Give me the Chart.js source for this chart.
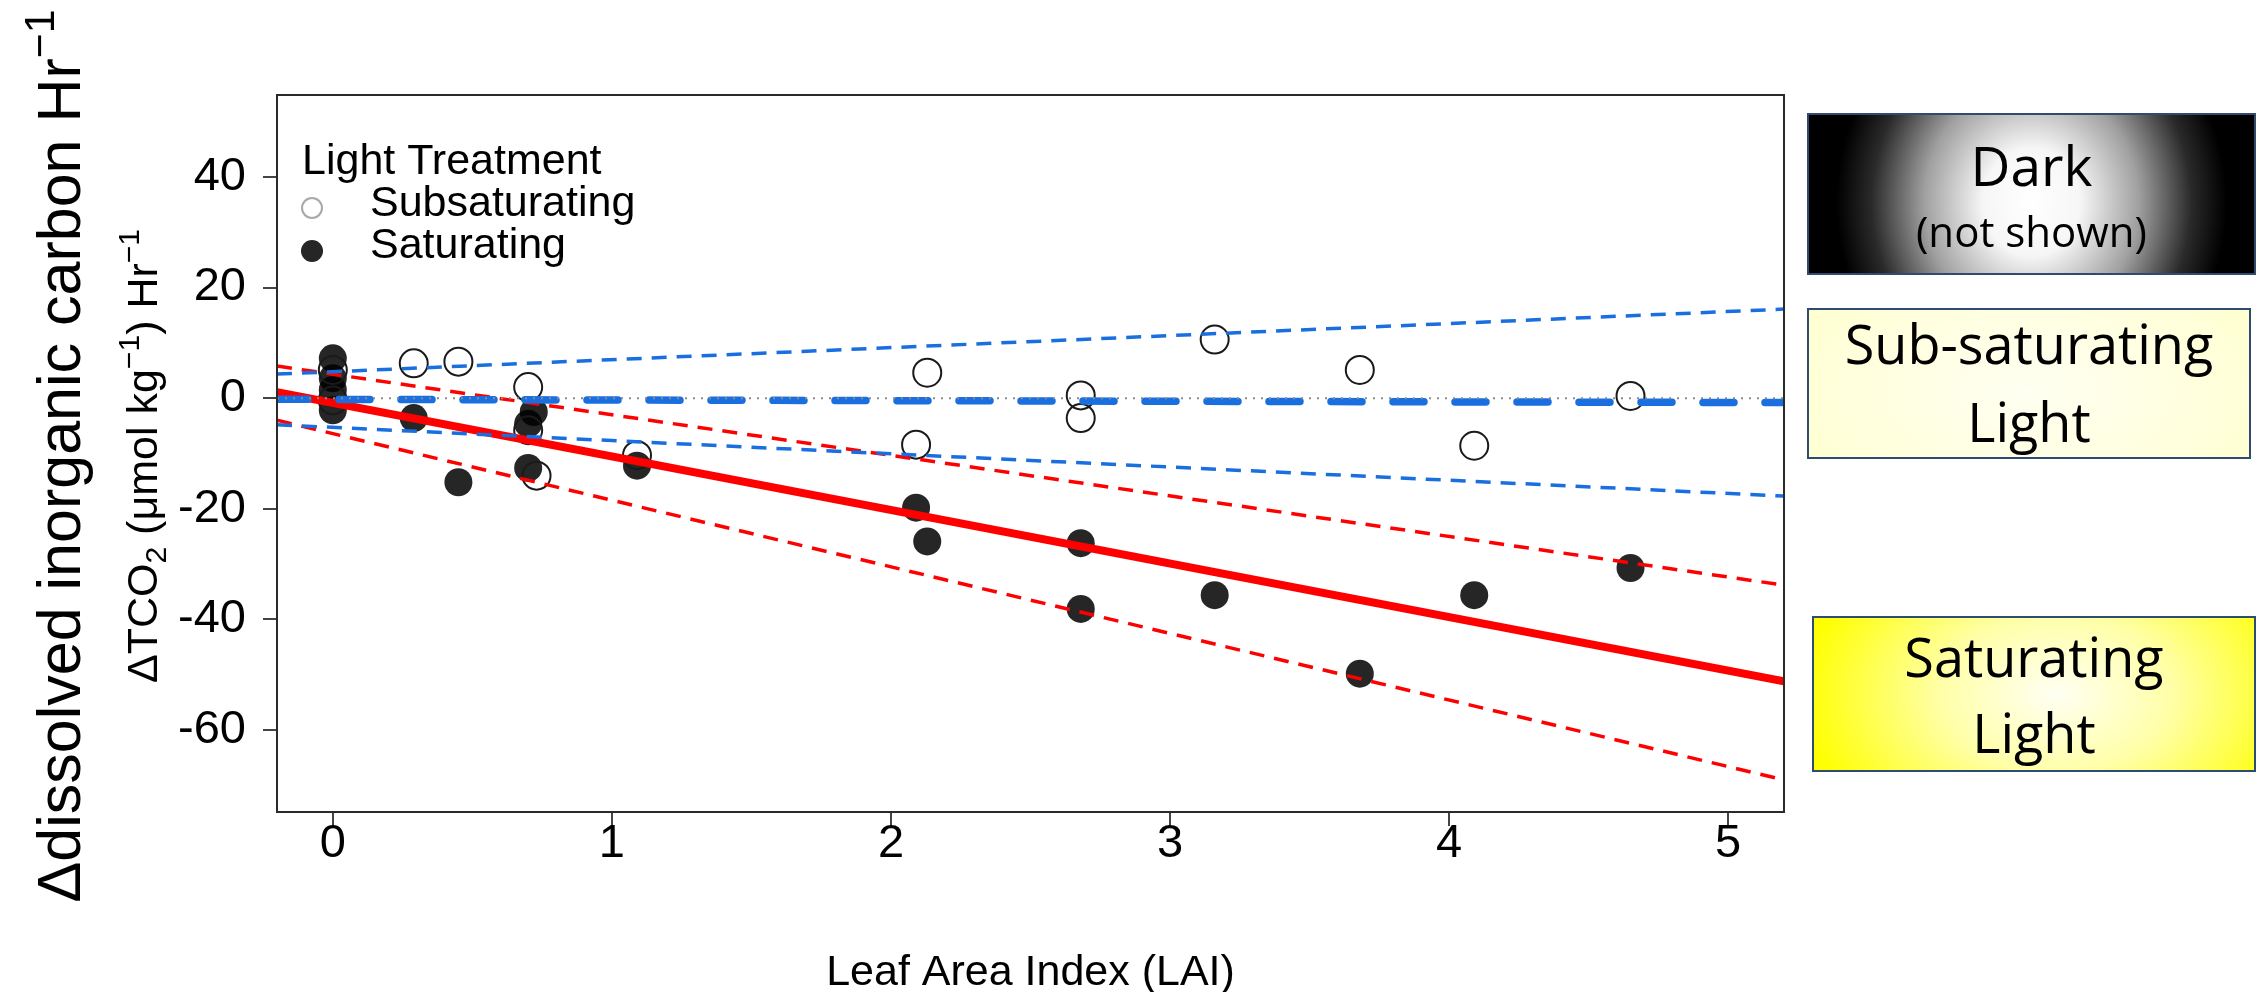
<!DOCTYPE html>
<html>
<head>
<meta charset="utf-8">
<script src="https://cdn.jsdelivr.net/npm/chart.js@4.4.1/dist/chart.umd.min.js"></script>
<style>
  html, body { margin: 0; padding: 0; background: #fff; }
  #wrap { position: relative; width: 2262px; height: 992px; overflow: hidden; }
  #chartBox { position: absolute; left: 0; top: 0; width: 2262px; height: 992px; }
  .panel { position: absolute; box-sizing: border-box; border: 2.5px solid #2f4b72;
           font-family: "Open Sans", "Noto Sans", sans-serif; color: #000; }
  .panel span { position: absolute; left: 0; right: 0; text-align: center; line-height: 1; white-space: nowrap; }
  #darkPanel { left: 1807px; top: 113px; width: 449px; height: 162px;
               background: radial-gradient(ellipse 195px 215px at 50% 55%, #ffffff 0%, #f6f6f6 25%, #a0a0a0 55%, #2a2a2a 82%, #000 100%); }
  #subPanel { left: 1807px; top: 308px; width: 444px; height: 151px;
              background: radial-gradient(ellipse 70% 120% at 50% 55%, #fffff2 0%, #ffffdc 60%, #ffffc8 100%); }
  #satPanel { left: 1812px; top: 616px; width: 444px; height: 156px;
              background: radial-gradient(ellipse 58% 115% at 55% 50%, #fffff4 0%, #ffffa8 45%, #ffff00 100%); }
</style>
</head>
<body>
<div id="wrap">
  <div id="chartBox"><canvas id="laiChart"></canvas></div>
  <div class="panel" id="darkPanel"></div>
  <div class="panel" id="subPanel"></div>
  <div class="panel" id="satPanel"></div>
</div>
<script>
// subsaturating light (open circles)
const subX = [0, 0, 0.29, 0.45, 0.70, 0.70, 0.73, 1.09, 2.09, 2.13, 2.68, 2.68, 3.16, 3.68, 4.09, 4.65];
const subY = [5.1, -0.4, 6.3, 6.6, 2.0, -5.8, -14.0, -10.3, -8.4, 4.6, 0.5, -3.6, 10.6, 5.1, -8.6, 0.4];

// saturating light (filled circles)
const satX = [0, 0, 0, 0, 0.29, 0.45, 0.70, 0.70, 0.72, 1.09, 2.09, 2.13, 2.68, 2.68, 3.16, 3.68, 4.09, 4.65];
const satY = [7.2, 3.6, 1.5, -2.2, -3.6, -15.2, -12.6, -4.6, -2.5, -12.2, -19.8, -25.9, -26.2, -38.1, -35.6, -49.8, -35.6, -30.7];

// fitted lines and bands, read at the two plot edges
const lineX = [-0.2, 5.2];
const satFitY = [1.1, -51.2];
const satUpperY = [5.8, -33.8];
const satLowerY = [-4.0, -69.0];
const subFitY = [-0.2, -0.8];
const subUpperY = [4.35, 16.1];
const subLowerY = [-4.8, -17.7];
const zeroY = [0, 0];

const xTicks = [0, 1, 2, 3, 4, 5];
const yTicks = [-60, -40, -20, 0, 20, 40];
const xRange = [-0.2, 5.2];
const yRange = [-74.8, 54.8];

const axisFont = '"Liberation Sans", Arial, sans-serif';
const red = '#ff0000';
const blue = '#1a6fe0';

function pairs(xs, ys) {
    return xs.map((x, i) => ({ x: x, y: ys[i] }));
}

function lineSet(label, ys, color, width, dash, order, cap) {
    return {
        label: label,
        data: pairs(lineX, ys),
        showLine: true,
        borderColor: color,
        borderWidth: width,
        borderDash: dash,
        borderCapStyle: cap || 'butt',
        pointRadius: 0,
        pointHoverRadius: 0,
        order: order
    };
}

// rotated / plain text with super- and subscripts
function drawRich(ctx, segs, x, y, size, rotate) {
    ctx.save();
    ctx.translate(x, y);
    if (rotate) ctx.rotate(-Math.PI / 2);
    ctx.fillStyle = '#000';
    ctx.textBaseline = 'alphabetic';
    ctx.textAlign = 'left';
    let total = 0;
    segs.forEach(s => {
        const fs = s.sup || s.sub ? size * 0.7 : size;
        ctx.font = fs + 'px ' + axisFont;
        s.w = ctx.measureText(s.t).width;
        total += s.w;
    });
    let cx = -total / 2;
    segs.forEach(s => {
        const fs = s.sup || s.sub ? size * 0.7 : size;
        ctx.font = fs + 'px ' + axisFont;
        let dy = 0;
        if (s.sup) dy = -size * 0.42;
        if (s.sub) dy = size * 0.22;
        ctx.fillText(s.t, cx, dy);
        cx += s.w;
    });
    ctx.restore();
}

const extras = {
    id: 'extras',
    afterDraw(chart) {
        const ctx = chart.ctx;
        const a = chart.chartArea;
        ctx.save();
        ctx.strokeStyle = '#2a2a2a';
        ctx.lineWidth = 2;
        ctx.strokeRect(a.left, a.top, a.right - a.left, a.bottom - a.top);

        drawRich(ctx, [{ t: 'Δdissolved inorganic carbon Hr' }, { t: '−1', sup: true }], 80, 456, 61, true);
        drawRich(ctx, [{ t: 'ΔTCO' }, { t: '2', sub: true }, { t: ' (μmol kg' }, { t: '−1', sup: true },
                       { t: ') Hr' }, { t: '−1', sup: true }], 157, 456, 43, true);
        drawRich(ctx, [{ t: 'Leaf Area Index (LAI)' }], (a.left + a.right) / 2, 985, 43, false);

        // legend
        ctx.font = '43px ' + axisFont;
        ctx.fillStyle = '#000';
        ctx.textAlign = 'left';
        ctx.textBaseline = 'alphabetic';
        ctx.fillText('Light Treatment', 302, 174);
        ctx.fillText('Subsaturating', 370, 216);
        ctx.fillText('Saturating', 370, 258);
        ctx.beginPath();
        ctx.arc(312, 208, 10, 0, Math.PI * 2);
        ctx.strokeStyle = '#a8a8a8';
        ctx.lineWidth = 2;
        ctx.stroke();
        ctx.beginPath();
        ctx.arc(312, 251, 11, 0, Math.PI * 2);
        ctx.fillStyle = '#262626';
        ctx.fill();
        ctx.restore();
    }
};

new Chart(document.getElementById('laiChart'), {
    type: 'scatter',
    data: {
        datasets: [
            {
                label: 'Saturating',
                data: pairs(satX, satY),
                pointRadius: 14,
                pointHoverRadius: 14,
                pointBackgroundColor: 'rgba(0,0,0,0.85)',
                pointBorderWidth: 0,
                order: 6
            },
            {
                label: 'Subsaturating',
                data: pairs(subX, subY),
                pointRadius: 14,
                pointHoverRadius: 14,
                pointBackgroundColor: 'rgba(0,0,0,0)',
                pointBorderColor: '#1a1a1a',
                pointBorderWidth: 2,
                order: 5
            },
            lineSet('sat lower', satLowerY, red, 3.5, [15, 10], 4),
            lineSet('sat upper', satUpperY, red, 3.5, [15, 10], 4),
            lineSet('sat fit', satFitY, red, 8, [], 3),
            lineSet('sub lower', subLowerY, blue, 3.5, [15, 10], 2),
            lineSet('sub upper', subUpperY, blue, 3.5, [15, 10], 2),
            lineSet('sub fit', subFitY, blue, 7.5, [31, 31], 2, 'round'),
            lineSet('zero', zeroY, '#8a8a8a', 2, [2, 6], 1)
        ]
    },
    options: {
        responsive: true,
        maintainAspectRatio: false,
        animation: false,
        events: [],
        layout: { padding: { top: 95, right: 478, left: 0, bottom: 0 } },
        plugins: {
            legend: { display: false },
            tooltip: { enabled: false }
        },
        scales: {
            x: {
                type: 'linear',
                min: xRange[0],
                max: xRange[1],
                afterBuildTicks: scale => { scale.ticks = xTicks.map(v => ({ value: v })); },
                afterFit: scale => { scale.height = 180; },
                grid: { drawOnChartArea: false, drawTicks: true, tickLength: 14, color: '#444', lineWidth: 2 },
                border: { display: false },
                ticks: { color: '#000', padding: -10, maxRotation: 0, font: { family: axisFont, size: 47 } }
            },
            y: {
                type: 'linear',
                min: yRange[0],
                max: yRange[1],
                afterBuildTicks: scale => { scale.ticks = yTicks.map(v => ({ value: v })); },
                afterFit: scale => { scale.width = 277; },
                grid: { drawOnChartArea: false, drawTicks: true, tickLength: 14, color: '#444', lineWidth: 2 },
                border: { display: false },
                ticks: { color: '#000', padding: 17, font: { family: axisFont, size: 47 } }
            }
        }
    },
    plugins: [extras]
});

// side panels
const panelLines = {
    darkPanel: [['Dark', 55, 186, 113], ['(not shown)', 42, 248, 113]],
    subPanel: [['Sub-saturating', 54, 364, 308], ['Light', 54, 442, 308]],
    satPanel: [['Saturating', 54, 677, 616], ['Light', 54, 753, 616]]
};
Object.keys(panelLines).forEach(id => {
    const el = document.getElementById(id);
    panelLines[id].forEach(([text, size, baseline, boxTop]) => {
        const s = document.createElement('span');
        s.textContent = text;
        s.style.fontSize = size + 'px';
        s.style.top = (baseline - boxTop - 2.5 - 0.888 * size) + 'px';
        el.appendChild(s);
    });
});
</script>
</body>
</html>
